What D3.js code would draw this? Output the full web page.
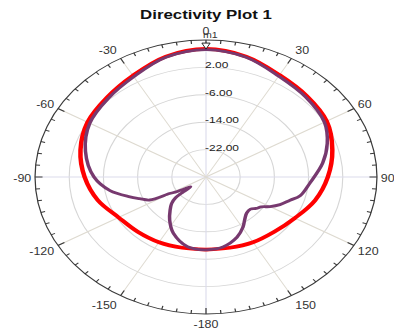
<!DOCTYPE html>
<html>
<head>
<meta charset="utf-8">
<script src="https://cdn.jsdelivr.net/npm/d3@7"></script>
<style>
  body { margin: 0; background: #fff; }
  text { font-family: Arial, "Liberation Sans", sans-serif; }
</style>
</head>
<body>
<svg id="chart" width="394" height="335"></svg>
<script>
// chart data
var TITLE = "Directivity Plot 1";
var ANGLE_LABELS = [0, 30, 60, 90, 120, 150, -180, -150, -120, -90, -60, -30];
var RING_VALUES = [2, -6, -14, -22];
var RING_LABELS = ["2.00", "-6.00", "-14.00", "-22.00"];
var R_MIN = -30, R_MAX = 10;

// red trace (theta deg, dB)
var red_theta = [-180, -165, -150, -135, -120, -105, -90, -75, -60, -45, -30, -15, 0,
                 15, 30, 45, 60, 75, 90, 105, 120, 135, 150, 165, 180];
var red_db = [-8.8, -8.6, -8.0, -7.4, -6.4, -3.8, -1.6, 0.4, 2.0, 2.8, 4.2, 6.4, 7.4,
              6.4, 4.4, 3.4, 2.6, 0.6, -1.5, -3.6, -6.0, -7.4, -8.0, -8.6, -8.8];

// purple trace (theta deg, dB)
var purple_theta = [-180, -168, -155, -146, -139, -134, -130.5, -129.3, -128.5, -125, -121, -119.5,
                    -117, -112, -108, -100, -90, -75, -60, -45, -30, -15, 0,
                    15, 30, 45, 60, 71, 81.5, 94, 104, 109, 115, 120, 124, 128, 132, 138,
                    144, 149.4, 157.5, 169, 180];
var purple_db = [-8.7, -9.2, -11.9, -14.8, -17.2, -18.8, -20.6, -23.2, -25.4, -24.0, -21.2, -20.2,
                 -15.2, -13.2, -11.3, -7.2, -3.8, -0.8, 1.4, 2.4, 3.8, 6.2, 7.2,
                 6.2, 4.0, 3.0, 2.0, 0.0, -2.4, -5.6, -7.3, -9.2, -10.9, -12.7, -14.4, -15.1, -16.0, -15.8,
                 -14.6, -13.0, -11.0, -9.2, -8.7];

// layout
var CX = 206, CY = 177, R = 137, SX = 1.248;
var GRID_COLOR = "#d6d6d6";
var AXIS_COLOR = "#3a3a3a";
var RED_COLOR = "#ff0000";
var PURPLE_COLOR = "#77396f";

var svg = d3.select("#chart");

// title (stretched like the rest of the plot)
svg.append("g")
    .attr("transform", "scale(" + SX + ",1)")
    .append("text")
    .attr("x", CX / SX)
    .attr("y", 19)
    .attr("text-anchor", "middle")
    .style("font-size", "13.5px")
    .style("font-weight", "bold")
    .style("fill", "#111")
    .text(TITLE);

var plot = svg.append("g")
    .attr("transform", "translate(" + CX + "," + CY + ") scale(" + SX + ",1)");

var rScale = d3.scaleLinear().domain([R_MIN, R_MAX]).range([0, R]).clamp(true);
var rad = function(a) { return a * Math.PI / 180; };

// grid rings
plot.selectAll(".ring")
    .data(RING_VALUES)
    .enter()
    .append("circle")
    .attr("class", "ring")
    .attr("r", d => rScale(d))
    .attr("fill", "none")
    .attr("stroke", GRID_COLOR)
    .attr("stroke-width", 0.9);

// spokes every 30 degrees
var spokes = d3.range(0, 180, 30);
plot.selectAll(".spoke")
    .data(spokes)
    .enter()
    .append("line")
    .attr("class", "spoke")
    .attr("x1", d => R * Math.sin(rad(d)))
    .attr("y1", d => -R * Math.cos(rad(d)))
    .attr("x2", d => -R * Math.sin(rad(d)))
    .attr("y2", d => R * Math.cos(rad(d)))
    .attr("stroke", d => (d % 90 === 0) ? "#dcdcec" : "#dedad0")
    .attr("stroke-width", 0.9);

// outer axis ring + ticks
plot.append("circle")
    .attr("r", R)
    .attr("fill", "none")
    .attr("stroke", AXIS_COLOR)
    .attr("stroke-width", 1);

var tickAngles = d3.range(-180, 180, 5);
plot.selectAll(".tick")
    .data(tickAngles)
    .enter()
    .append("line")
    .attr("class", "tick")
    .attr("x1", d => R * Math.sin(rad(d)))
    .attr("y1", d => -R * Math.cos(rad(d)))
    .attr("x2", d => (R - (d % 30 === 0 ? 6 : 3.5)) * Math.sin(rad(d)))
    .attr("y2", d => -(R - (d % 30 === 0 ? 6 : 3.5)) * Math.cos(rad(d)))
    .attr("stroke", AXIS_COLOR)
    .attr("stroke-width", 1);

// angle labels
plot.selectAll(".angle-label")
    .data(ANGLE_LABELS)
    .enter()
    .append("text")
    .attr("class", "angle-label")
    .attr("x", function(d) {
        var x = R * Math.sin(rad(d));
        if (d === 0 || d === -180) return x;
        return d > 0 ? x + 3 : x - 3;
    })
    .attr("y", d => -R * Math.cos(rad(d)) - 10 * Math.cos(rad(d)) + 1)
    .attr("dy", "0.35em")
    .attr("text-anchor", function(d) {
        if (d === 0 || d === -180) return "middle";
        return d > 0 ? "start" : "end";
    })
    .style("font-size", "10px")
    .style("fill", "#333")
    .text(d => d);

// radial labels
plot.selectAll(".ring-label")
    .data(RING_VALUES)
    .enter()
    .append("text")
    .attr("class", "ring-label")
    .attr("x", -0.8)
    .attr("y", d => -rScale(d) + 1)
    .style("font-size", "9.6px")
    .style("fill", "#222")
    .text((d, i) => RING_LABELS[i]);

// traces
var lineGen = d3.lineRadial()
    .angle(d => rad(d[0]))
    .radius(d => rScale(d[1]))
    .curve(d3.curveCatmullRom.alpha(0.5));

var redPts = red_theta.map((t, i) => [t, red_db[i]]);
var purplePts = purple_theta.map((t, i) => [t, purple_db[i]]);

plot.append("path")
    .attr("d", lineGen(redPts))
    .attr("fill", "none")
    .attr("stroke", RED_COLOR)
    .attr("stroke-width", 3.6)
    .attr("stroke-linejoin", "round");

plot.append("path")
    .attr("d", lineGen(purplePts))
    .attr("fill", "none")
    .attr("stroke", PURPLE_COLOR)
    .attr("stroke-width", 2.8)
    .attr("stroke-linejoin", "round");

// marker m1 at the top of the purple trace
var mTop = -rScale(purple_db[22]);
plot.append("path")
    .attr("d", "M-3.3," + (mTop - 6.5) + " L3.3," + (mTop - 6.5) + " L0," + (mTop - 0.5) + " Z")
    .attr("fill", "#fff")
    .attr("stroke", "#111")
    .attr("stroke-width", 0.8);

plot.append("text")
    .attr("x", -2.5)
    .attr("y", -R - 2)
    .style("font-size", "8.5px")
    .style("fill", "#333")
    .text("m1");
</script>
</body>
</html>
